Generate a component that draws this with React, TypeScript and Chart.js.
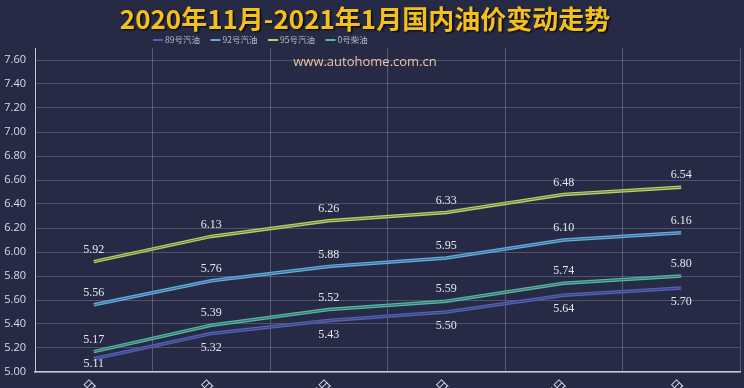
import React, { useEffect, useRef } from 'react';
import { Chart, registerables } from 'chart.js';

Chart.register(...registerables);

const TITLE = '2020年11月-2021年1月国内油价变动走势';
const WATERMARK = 'www.autohome.com.cn';
const categories = ['11月19日', '12月3日', '12月17日', '12月31日', '1月15日', '1月29日'];
const seriesNames = ['89号汽油', '92号汽油', '95号汽油', '0号柴油'];
const values89 = [5.11, 5.32, 5.43, 5.5, 5.64, 5.7];
const values92 = [5.56, 5.76, 5.88, 5.95, 6.1, 6.16];
const values95 = [5.92, 6.13, 6.26, 6.33, 6.48, 6.54];
const values0 = [5.17, 5.39, 5.52, 5.59, 5.74, 5.8];
const yMin = 5.0;
const yMax = 7.7;
const yStep = 0.2;

const colors = ['#5461b8', '#62aee0', '#bad462', '#55b8a0'];
const BG = '#262a44';

const decorPlugin = {
  id: 'decor',
  beforeDraw(chart: any) {
    const { ctx, width, height } = chart;
    ctx.save();
    ctx.fillStyle = BG;
    ctx.fillRect(0, 0, width, height);
    ctx.restore();
  },
  afterDatasetsDraw(chart: any) {
    const { ctx, chartArea } = chart;
    ctx.save();
    // darker centre stripe on lines (double-line look)
    chart.data.datasets.forEach((ds: any, i: number) => {
      const meta = chart.getDatasetMeta(i);
      ctx.beginPath();
      meta.data.forEach((p: any, j: number) => {
        if (j === 0) ctx.moveTo(p.x, p.y);
        else ctx.lineTo(p.x, p.y);
      });
      ctx.strokeStyle = 'rgba(38,42,68,0.55)';
      ctx.lineWidth = 1;
      ctx.stroke();
    });
    // data labels
    ctx.font = '12px "Liberation Serif", "DejaVu Serif", serif';
    ctx.fillStyle = '#e6e8f0';
    ctx.textAlign = 'center';
    ctx.textBaseline = 'middle';
    chart.data.datasets.forEach((ds: any, i: number) => {
      const meta = chart.getDatasetMeta(i);
      const below = i === 0;
      meta.data.forEach((p: any, j: number) => {
        const v = ds.data[j] as number;
        let y = below ? p.y + 14 : p.y - 12;
        if (below) y = Math.min(y, chartArea.bottom - 8);
        ctx.fillText(v.toFixed(2), p.x, y);
      });
    });
    ctx.restore();
  },
  afterDraw(chart: any) {
    const { ctx } = chart;
    ctx.save();
    // title
    ctx.font = 'bold 26px "Noto Sans CJK SC", sans-serif';
    ctx.textAlign = 'center';
    ctx.textBaseline = 'middle';
    ctx.shadowColor = 'rgba(0,0,0,0.85)';
    ctx.shadowOffsetX = 1.5;
    ctx.shadowOffsetY = 1.5;
    ctx.shadowBlur = 2;
    ctx.fillStyle = '#f5c01c';
    ctx.fillText(TITLE, 365, 19);
    ctx.shadowColor = 'transparent';
    // legend
    ctx.font = '8.5px "Noto Sans CJK SC", sans-serif';
    ctx.textAlign = 'left';
    let x = 153;
    seriesNames.forEach((name, i) => {
      ctx.fillStyle = colors[i];
      ctx.fillRect(x, 39, 10, 2);
      ctx.fillStyle = '#b8bccb';
      ctx.fillText(name, x + 12, 40);
      x += 57.5;
    });
    // watermark
    ctx.font = '13px "Open Sans", "DejaVu Sans", sans-serif';
    ctx.textAlign = 'center';
    ctx.fillStyle = '#ecc4a8';
    ctx.fillText(WATERMARK, 365, 62);
    ctx.restore();
  },
};

export default function App() {
  const ref = useRef<HTMLCanvasElement>(null);
  useEffect(() => {
    if (!ref.current) return;
    const datasets = [values89, values92, values95, values0].map((d, i) => ({
      label: seriesNames[i],
      data: d,
      borderColor: colors[i],
      backgroundColor: colors[i],
      borderWidth: 3.5,
      pointRadius: 0,
      tension: 0,
      fill: false,
    }));
    const chart = new Chart(ref.current, {
      type: 'line',
      data: { labels: categories, datasets },
      options: {
        animation: false,
        responsive: false,
        maintainAspectRatio: false,
        layout: { padding: { top: 48, right: 4, left: 0, bottom: 0 } },
        plugins: {
          legend: { display: false },
          title: { display: false },
          tooltip: { enabled: false },
        },
        scales: {
          x: {
            offset: true,
            grid: { offset: true, color: 'rgba(200,205,225,0.3)', drawTicks: false },
            border: { color: '#c4c8d6', width: 1.5 },
            ticks: {
              color: '#d8dbe6',
              font: { size: 12, family: '"Noto Sans CJK SC", sans-serif' },
              maxRotation: 45,
              minRotation: 45,
              padding: 4,
            },
            afterFit: (scale: any) => {
              scale.height = 16;
            },
          },
          y: {
            min: yMin,
            max: yMax,
            grid: {
              color: (c: any) => (c.tick && c.tick.value > 7.65 ? 'rgba(0,0,0,0)' : 'rgba(200,205,225,0.25)'),
              drawTicks: false,
            },
            border: { color: '#c4c8d6', width: 1 },
            ticks: {
              stepSize: yStep,
              includeBounds: false,
              color: '#d8dbe6',
              padding: 9,
              font: { size: 11, family: '"Open Sans", "DejaVu Sans", sans-serif' },
              callback: (v: any) => Number(v).toFixed(2),
            },
            afterFit: (scale: any) => {
              scale.width = 35;
            },
          },
        },
      },
      plugins: [decorPlugin],
    });
    return () => chart.destroy();
  }, []);
  return (
    <div style={{ position: 'fixed', left: 0, top: 0, width: 744, height: 388, background: BG }}>
      <canvas ref={ref} width={744} height={388} style={{ width: 744, height: 388, display: 'block' }} />
    </div>
  );
}
